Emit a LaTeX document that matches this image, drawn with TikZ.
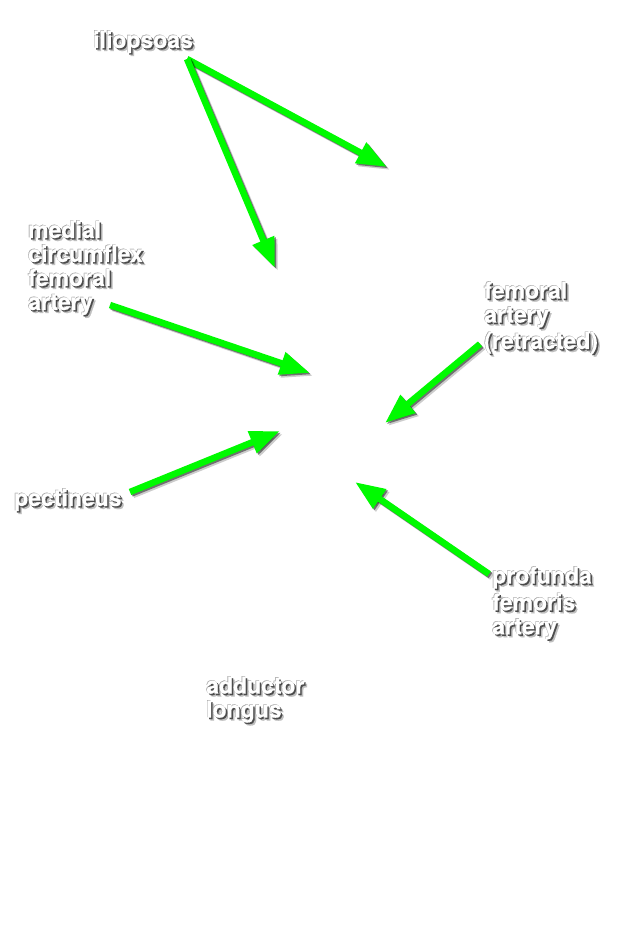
\documentclass[tikz,border=0pt]{standalone}
\usepackage{fontspec}
\setmainfont{TeX Gyre Heros}[BoldFeatures={FakeBold=0.6}]
\usetikzlibrary{arrows.meta}
\definecolor{arrowgreen}{RGB}{0,250,0}
\tikzset{
  lbl/.style={anchor=north west, inner sep=0pt, align=left,
    font=\fontsize{23}{24}\selectfont\bfseries, text=white},
  grn/.style={draw=arrowgreen, line width=6.5pt,
    -{Triangle[length=30pt,width=22pt]}},
  arrshadow/.style={draw=black, opacity=#1, line width=6.5pt,
    -{Triangle[length=30pt,width=22pt]}},
}
\newcommand\grnarrow[2]{%
  \draw[arrshadow=0.2] ([xshift=3pt,yshift=-3pt]#1) -- ([xshift=3pt,yshift=-3pt]#2);
  \draw[arrshadow=0.45] ([xshift=1.5pt,yshift=-1.5pt]#1) -- ([xshift=1.5pt,yshift=-1.5pt]#2);
  \draw[grn] (#1) -- (#2);}
% one line of white text with a soft dark shadow
\newcommand\sh[1]{\leavevmode
  \rlap{\kern3pt\raisebox{-3pt}{\color{black!25}#1}}%
  \rlap{\kern-0.6pt\raisebox{0.6pt}{\color{black!35}#1}}%
  \rlap{\kern1.5pt\raisebox{-1.5pt}{\color{black!70}#1}}%
  #1}
\begin{document}
\begin{tikzpicture}[x=1pt,y=-1pt]
\useasboundingbox (0,0) rectangle (631,950);
\fill[white] (0,0) rectangle (631,950);
% arrow end points
\coordinate (t1) at (187,59);
\coordinate (h1) at (387,167);
\coordinate (h2) at (275,268);
\coordinate (t3) at (110,305);
\coordinate (h3) at (310,373);
\coordinate (t4) at (130,492);
\coordinate (h4) at (280,431);
\coordinate (t5) at (480,344);
\coordinate (h5) at (385,423);
\coordinate (t6) at (489,574);
\coordinate (h6) at (355,482);
\grnarrow{t1}{h1}
\grnarrow{t1}{h2}
\grnarrow{t3}{h3}
\grnarrow{t4}{h4}
\grnarrow{t5}{h5}
\grnarrow{t6}{h6}
% labels
\node[lbl] (ilio) at (93,30) {\sh{iliopsoas}};
\node[lbl] (mcfa) at (28,220) {\sh{medial}\\\sh{circumflex}\\\sh{femoral}\\\sh{artery}};
\node[lbl] (pect) at (14,488) {\sh{pectineus}};
\node[lbl] (fart) at (484,281) {\sh{femoral}\\\sh{artery}\\\sh{(retracted)}};
\node[lbl] (pfa) at (492,566) {\sh{profunda}\\\sh{femoris}\\\sh{artery}};
\node[lbl] (addl) at (206,676) {\sh{adductor}\\\sh{longus}};
\end{tikzpicture}
\end{document}
